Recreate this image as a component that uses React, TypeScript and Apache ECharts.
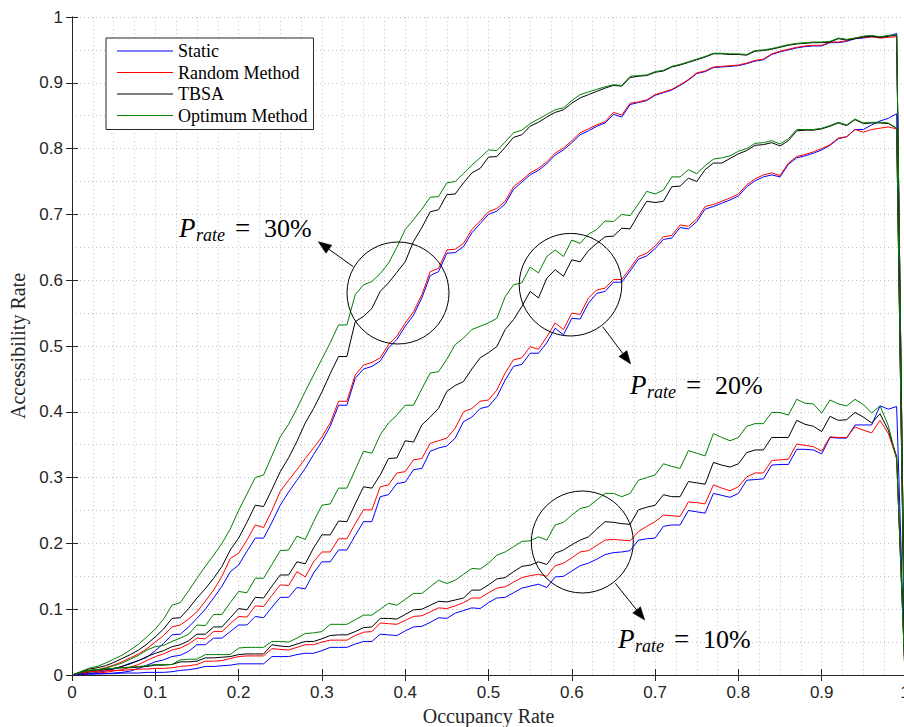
import React, { useEffect, useRef } from "react";
import * as echarts from "echarts";

// Occupancy rate sample positions (0 .. 1, step 0.01)
const occupancy: number[] = Array.from({ length: 101 }, (_, i) => i / 100);

const methodNames = ["Static", "Random Method", "TBSA", "Optimum Method"];
const methodColors = ["#0000ff", "#ff0000", "#000000", "#008000"];

// ---- P_rate = 30% ----
const static30 = [
  0, .001, .002, .004, .006, .009, .013, .018, .022, .027,
  .037, .048, .061, .062, .073, .086, .100, .117, .135, .157,
  .167, .188, .208, .208, .232, .258, .278, .296, .314, .335,
  .355, .378, .410, .410, .451, .465, .469, .477, .497, .510,
  .530, .547, .573, .607, .613, .641, .642, .651, .672, .686,
  .700, .705, .716, .738, .749, .760, .767, .777, .790, .798,
  .809, .821, .827, .834, .839, .852, .848, .867, .870, .873,
  .881, .885, .889, .896, .904, .914, .917, .923, .924, .925,
  .926, .929, .933, .935, .943, .947, .950, .953, .955, .956,
  .956, .961, .961, .963, .967, .968, .970, .969, .971, .975,
  0,
];
const random30 = [
  0, .002, .005, .008, .011, .015, .020, .026, .032, .040,
  .050, .060, .073, .076, .085, .096, .112, .129, .150, .177,
  .185, .205, .228, .224, .250, .279, .296, .312, .329, .345,
  .362, .383, .416, .416, .456, .471, .475, .482, .502, .515,
  .535, .552, .578, .613, .618, .646, .647, .656, .677, .690,
  .704, .709, .720, .742, .752, .763, .770, .780, .793, .801,
  .812, .824, .830, .836, .841, .855, .851, .869, .871, .874,
  .882, .886, .890, .897, .905, .915, .918, .924, .925, .926,
  .927, .930, .934, .936, .944, .948, .951, .954, .956, .957,
  .957, .962, .962, .964, .968, .969, .970, .968, .969, .970,
  0,
];
const tbsa30 = [
  0, .004, .009, .011, .014, .019, .025, .031, .038, .047,
  .058, .070, .086, .087, .101, .117, .131, .147, .165, .190,
  .208, .232, .258, .256, .282, .309, .330, .355, .383, .405,
  .430, .458, .484, .484, .537, .545, .557, .583, .596, .612,
  .628, .659, .680, .704, .707, .730, .731, .748, .763, .770,
  .787, .788, .802, .817, .821, .834, .840, .848, .855, .859,
  .869, .877, .882, .887, .892, .896, .895, .908, .910, .911,
  .916, .918, .924, .927, .931, .935, .939, .944, .944, .943,
  .943, .942, .948, .949, .951, .954, .957, .959, .960, .961,
  .961, .962, .967, .965, .967, .970, .971, .969, .971, .972,
  0,
];
const optimum30 = [
  0, .005, .010, .013, .018, .024, .030, .038, .047, .058,
  .070, .085, .106, .110, .128, .147, .165, .182, .200, .222,
  .250, .275, .300, .304, .333, .362, .381, .405, .431, .456,
  .480, .505, .532, .532, .578, .593, .598, .610, .626, .650,
  .677, .692, .708, .726, .727, .748, .750, .762, .775, .786,
  .798, .797, .810, .824, .828, .838, .845, .852, .859, .862,
  .873, .882, .886, .890, .894, .897, .896, .910, .911, .912,
  .917, .919, .925, .928, .932, .936, .940, .945, .945, .944,
  .944, .943, .949, .950, .952, .955, .958, .960, .961, .962,
  .962, .963, .968, .966, .968, .971, .972, .970, .972, .973,
  0,
];

// ---- P_rate = 20% ----
const static20 = [
  0, .0005, .001, .0015, .002, .003, .004, .006, .010, .015,
  .020, .023, .028, .030, .036, .046, .046, .056, .056, .066,
  .076, .076, .089, .087, .103, .118, .118, .133, .131, .155,
  .172, .172, .190, .190, .212, .233, .233, .271, .274, .291,
  .293, .312, .314, .340, .345, .348, .360, .385, .392, .405,
  .408, .423, .448, .469, .472, .489, .489, .505, .527, .517,
  .542, .541, .565, .580, .583, .597, .597, .614, .632, .637,
  .648, .662, .664, .680, .678, .689, .708, .712, .717, .722,
  .728, .742, .751, .757, .760, .757, .776, .786, .789, .793,
  .798, .805, .815, .818, .829, .829, .836, .842, .846, .853,
  0,
];
const random20 = [
  0, .001, .002, .003, .004, .006, .008, .012, .016, .022,
  .028, .032, .038, .041, .047, .056, .055, .066, .066, .078,
  .089, .088, .105, .104, .121, .137, .136, .157, .149, .172,
  .187, .187, .207, .207, .230, .251, .251, .286, .289, .307,
  .309, .327, .329, .352, .356, .360, .375, .400, .405, .416,
  .418, .433, .459, .479, .482, .499, .495, .514, .535, .525,
  .550, .548, .573, .585, .588, .601, .601, .618, .636, .641,
  .652, .666, .668, .684, .682, .693, .712, .715, .720, .725,
  .731, .745, .754, .760, .763, .759, .778, .788, .791, .795,
  .800, .806, .816, .818, .829, .825, .829, .831, .833, .830,
  0,
];
const tbsa20 = [
  0, .002, .004, .006, .008, .010, .013, .017, .022, .028,
  .033, .037, .043, .046, .052, .062, .062, .073, .073, .087,
  .101, .099, .118, .117, .135, .152, .152, .172, .169, .193,
  .213, .213, .234, .233, .260, .286, .284, .304, .329, .330,
  .356, .354, .380, .392, .405, .431, .440, .446, .465, .482,
  .490, .499, .525, .540, .560, .583, .573, .603, .616, .606,
  .631, .628, .645, .656, .666, .667, .679, .678, .700, .720,
  .718, .720, .742, .743, .755, .750, .768, .778, .778, .785,
  .792, .797, .805, .806, .809, .804, .812, .827, .828, .828,
  .830, .834, .839, .835, .844, .838, .839, .839, .838, .831,
  0,
];
const optimum20 = [
  0, .003, .006, .008, .010, .014, .018, .024, .030, .038,
  .043, .045, .051, .056, .062, .076, .075, .092, .092, .110,
  .127, .125, .147, .147, .168, .189, .190, .211, .206, .233,
  .258, .260, .284, .284, .312, .340, .337, .365, .383, .395,
  .410, .410, .435, .459, .461, .480, .502, .512, .525, .530,
  .535, .542, .575, .593, .596, .620, .611, .636, .646, .636,
  .661, .656, .670, .677, .690, .689, .700, .698, .716, .735,
  .731, .737, .757, .757, .768, .762, .774, .784, .786, .789,
  .796, .800, .808, .809, .812, .807, .815, .829, .829, .829,
  .831, .835, .840, .836, .845, .839, .840, .840, .839, .831,
  0,
];

// ---- P_rate = 10% ----
const static10 = [
  0, .001, .002, .002, .002, .002, .003, .003, .003, .004,
  .004, .004, .005, .007, .008, .010, .013, .013, .014, .015,
  .017, .017, .017, .017, .028, .028, .028, .031, .033, .033,
  .037, .042, .042, .042, .047, .051, .051, .062, .061, .060,
  .067, .073, .074, .080, .087, .086, .094, .098, .102, .101,
  .110, .117, .118, .125, .132, .135, .138, .133, .149, .150,
  .158, .166, .170, .176, .183, .186, .187, .189, .205, .207,
  .208, .226, .228, .228, .250, .248, .246, .276, .273, .270,
  .276, .296, .297, .298, .319, .320, .320, .343, .343, .342,
  .336, .361, .360, .360, .380, .380, .380, .409, .404, .408,
  0,
];
const random10 = [
  0, .003, .005, .006, .006, .007, .007, .008, .009, .009,
  .010, .010, .011, .013, .014, .016, .021, .021, .022, .025,
  .028, .029, .029, .029, .040, .039, .038, .042, .046, .046,
  .050, .053, .053, .053, .060, .065, .066, .079, .078, .077,
  .083, .089, .090, .096, .102, .101, .105, .110, .117, .117,
  .125, .132, .134, .141, .148, .151, .153, .150, .166, .170,
  .178, .187, .189, .197, .205, .206, .205, .204, .218, .226,
  .233, .243, .242, .241, .263, .262, .260, .289, .284, .280,
  .286, .301, .307, .307, .326, .327, .328, .351, .349, .347,
  .340, .362, .361, .361, .377, .372, .368, .387, .367, .329,
  0,
];
const tbsa10 = [
  0, .004, .007, .008, .009, .010, .011, .011, .012, .013,
  .015, .015, .016, .020, .020, .021, .026, .026, .027, .028,
  .031, .032, .032, .032, .046, .044, .043, .047, .051, .051,
  .055, .060, .061, .061, .066, .072, .073, .086, .086, .085,
  .092, .099, .100, .106, .112, .111, .114, .117, .129, .129,
  .137, .146, .148, .157, .165, .167, .172, .168, .185, .190,
  .198, .205, .210, .222, .233, .232, .230, .229, .251, .255,
  .258, .274, .271, .271, .294, .292, .290, .323, .319, .316,
  .321, .338, .342, .342, .361, .361, .361, .387, .381, .378,
  .370, .393, .387, .388, .399, .392, .383, .397, .372, .332,
  0,
];
const optimum10 = [
  0, .004, .007, .008, .009, .010, .011, .012, .013, .014,
  .016, .016, .016, .023, .024, .024, .031, .031, .031, .031,
  .041, .042, .042, .042, .051, .051, .050, .056, .063, .064,
  .066, .077, .077, .077, .084, .091, .091, .100, .109, .106,
  .115, .124, .124, .134, .144, .139, .144, .153, .162, .161,
  .170, .182, .187, .195, .203, .204, .210, .205, .228, .232,
  .243, .253, .256, .266, .276, .276, .271, .276, .296, .300,
  .304, .321, .317, .314, .341, .337, .333, .367, .361, .356,
  .361, .378, .382, .382, .399, .399, .395, .419, .413, .412,
  .398, .418, .412, .409, .419, .411, .398, .409, .379, .328,
  0,
];

const groups = [
  [static30, random30, tbsa30, optimum30],
  [static20, random20, tbsa20, optimum20],
  [static10, random10, tbsa10, optimum10],
];

const annotationLabels = ["30%", "20%", "10%"];

const AXIS_COLOR = "#262626";
const GRID_COLOR = "#c4c4c4";
const SERIF = '"Liberation Serif", "Times New Roman", serif';
const SANS = '"Liberation Sans", Arial, Helvetica, sans-serif';

function arrow(x1: number, y1: number, x2: number, y2: number) {
  const dx = x2 - x1;
  const dy = y2 - y1;
  const L = Math.hypot(dx, dy);
  const ux = dx / L;
  const uy = dy / L;
  const hl = 13;
  const hw = 5;
  const bx = x2 - ux * hl;
  const by = y2 - uy * hl;
  return [
    { type: "line", shape: { x1, y1, x2: bx, y2: by }, style: { stroke: "#000", lineWidth: 1 }, z: 100 },
    {
      type: "polygon",
      shape: { points: [[x2, y2], [bx - uy * hw, by + ux * hw], [bx + uy * hw, by - ux * hw]] },
      style: { fill: "#000", stroke: "#000", lineWidth: 0.5 },
      z: 100,
    },
  ];
}

function rateLabel(x0: number, b: number, pct: string) {
  return [
    { type: "text", x: x0, y: b - 8.8, z: 100, style: { text: "P", font: `italic 27px ${SERIF}`, fill: "#000", textAlign: "left", textVerticalAlign: "middle" } },
    { type: "text", x: x0 + 17, y: b - 2, z: 100, style: { text: "rate", font: `italic 18px ${SERIF}`, fill: "#000", textAlign: "left", textVerticalAlign: "middle" } },
    { type: "text", x: x0 + 56, y: b - 8.8, z: 100, style: { text: "=", font: `27px ${SERIF}`, fill: "#000", textAlign: "left", textVerticalAlign: "middle" } },
    { type: "text", x: x0 + 85, y: b - 8.8, z: 100, style: { text: pct, font: `26px ${SERIF}`, fill: "#000", textAlign: "left", textVerticalAlign: "middle" } },
  ];
}

function circle(cx: number, cy: number, r: number) {
  return { type: "circle", shape: { cx, cy, r }, style: { fill: "none", stroke: "#000", lineWidth: 1 }, z: 100 };
}

export default function App() {
  const ref = useRef<HTMLDivElement>(null);

  useEffect(() => {
    if (!ref.current) return;
    const chart = echarts.init(ref.current, undefined, { renderer: "svg" });

    const series: any[] = [];
    groups.forEach((g) => {
      g.forEach((vals, m) => {
        series.push({
          type: "line",
          name: methodNames[m],
          data: occupancy.map((x, i) => [x, vals[i]]),
          showSymbol: false,
          symbol: "none",
          lineStyle: { color: methodColors[m], width: 1 },
          itemStyle: { color: methodColors[m] },
          emphasis: { disabled: true },
          clip: true,
        });
      });
    });

    const dotted = { type: [1, 3], color: GRID_COLOR, width: 1 };

    const option: any = {
      animation: false,
      backgroundColor: "#ffffff",
      grid: { left: 72, top: 17, width: 833, height: 658, containLabel: false, outerBoundsMode: "none" },
      xAxis: [
        {
          type: "value",
          min: 0,
          max: 1,
          interval: 0.1,
          position: "bottom",
          name: "Occupancy Rate",
          nameLocation: "middle",
          nameGap: 30,
          nameTextStyle: { fontFamily: SERIF, fontSize: 20, color: AXIS_COLOR },
          axisLine: { show: true, lineStyle: { color: AXIS_COLOR, width: 1 } },
          axisTick: { show: true, inside: true, length: 6, lineStyle: { color: AXIS_COLOR } },
          axisLabel: { fontFamily: SANS, fontSize: 17, color: AXIS_COLOR, margin: 9 },
          splitLine: { show: true, lineStyle: dotted },
          minorTick: { show: false, splitNumber: 4 },
          minorSplitLine: { show: true, lineStyle: dotted },
        },
        {
          type: "value",
          min: 0,
          max: 1,
          interval: 0.1,
          position: "top",
          axisLine: { show: true, lineStyle: { color: AXIS_COLOR, width: 1 } },
          axisTick: { show: true, inside: true, length: 6, lineStyle: { color: AXIS_COLOR } },
          axisLabel: { show: false },
          splitLine: { show: false },
        },
      ],
      yAxis: [
        {
          type: "value",
          min: 0,
          max: 1,
          interval: 0.1,
          position: "left",
          name: "Accessibility Rate",
          nameLocation: "middle",
          nameGap: 43,
          nameTextStyle: { fontFamily: SERIF, fontSize: 20, color: AXIS_COLOR },
          axisLine: { show: true, lineStyle: { color: AXIS_COLOR, width: 1 } },
          axisTick: { show: true, inside: true, length: 6, lineStyle: { color: AXIS_COLOR } },
          axisLabel: { fontFamily: SANS, fontSize: 17, color: AXIS_COLOR, margin: 9 },
          splitLine: { show: true, lineStyle: dotted },
          minorTick: { show: false, splitNumber: 2 },
          minorSplitLine: { show: true, lineStyle: dotted },
        },
        {
          type: "value",
          min: 0,
          max: 1,
          interval: 0.1,
          position: "right",
          axisLine: { show: true, lineStyle: { color: AXIS_COLOR, width: 1 } },
          axisTick: { show: true, inside: true, length: 6, lineStyle: { color: AXIS_COLOR } },
          axisLabel: { show: false },
          splitLine: { show: false },
        },
      ],
      legend: {
        data: methodNames,
        orient: "vertical",
        left: 106,
        top: 38,
        padding: [4, 6, 5, 11],
        icon: "rect",
        itemWidth: 56,
        itemHeight: 1,
        itemGap: 3.5,
        borderColor: AXIS_COLOR,
        borderWidth: 1,
        borderRadius: 0,
        backgroundColor: "#ffffff",
        selectedMode: false,
        textStyle: { fontFamily: SERIF, fontSize: 18, color: "#000" },
        z: 50,
      },
      graphic: [
        circle(398, 293, 51),
        circle(570.5, 284.7, 51.3),
        circle(582.3, 542, 51),
        ...arrow(353.3, 266.7, 318.3, 241.7),
        ...arrow(602.7, 326.7, 630.7, 364),
        ...arrow(615.3, 583.3, 644.7, 620),
        ...rateLabel(179, 237, annotationLabels[0]),
        ...rateLabel(630, 394, annotationLabels[1]),
        ...rateLabel(618, 648, annotationLabels[2]),
      ],
      series,
    };

    chart.setOption(option);
    return () => chart.dispose();
  }, []);

  return (
    <div
      ref={ref}
      style={{ position: "fixed", left: 0, top: 0, width: 904, height: 727, background: "#fff" }}
    />
  );
}
